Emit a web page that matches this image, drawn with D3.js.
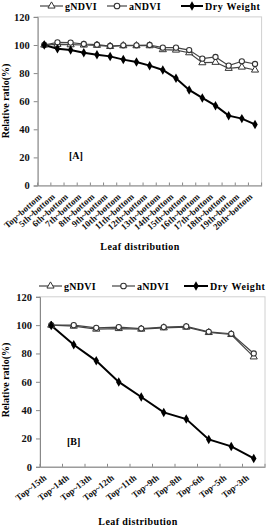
<!DOCTYPE html>
<html><head><meta charset="utf-8">
<script src="https://cdn.jsdelivr.net/npm/d3@7"></script>
<style>body{margin:0;background:#fff}svg{display:block}</style>
</head><body>
<script>
const catsA = ["Top~bottom","5th~bottom","6th~bottom","7th~bottom","8th~bottom","9th~bottom","10th~bottom","11th~bottom","12th~bottom","13th~bottom","14th~bottom","15th~bottom","16th~bottom","17th~bottom","18th~bottom","19th~bottom","20th~bottom"];
const gndviA = [100,100.5,100.2,100,99.8,99,99.5,99.5,99.5,96.7,96.4,94.5,87.4,87.7,83.4,84.3,82.2];
const andviA = [100,101.9,101.7,100.7,100.2,99.3,99.8,99.8,100,98.1,98.1,96.4,90.3,91.5,85.3,88.4,86.5];
const dryA = [100,97.4,96.4,94.5,93.1,91.9,89.6,87.9,85.3,82.2,76.3,68,62.3,56.8,49.7,47.6,43.5];

const catsB = ["Top~15th","Top~14th","Top~13th","Top~12th","Top~11th","Top~9th","Top~8th","Top~6th","Top~5th","Top~3th"];
const gndviB = [100,99.3,97.2,97.6,97.2,98.1,98.6,94.8,93.4,77.6];
const andviB = [100,100,98.1,98.6,97.6,98.6,99.1,95.3,93.9,80];
const dryB = [99.7,86.1,74.8,59.9,49.3,38.4,33.7,19.3,14.4,5.9];

const yTicks = [0,20,40,60,80,100,120];
const seriesNames = ["gNDVI","aNDVI","Dry Weight"];

const FONT = "'Liberation Serif','Times New Roman',serif";
const svg = d3.select("body").append("svg").attr("width",269).attr("height",527)
  .style("font-family",FONT);

function panel(cfg){
  const g = svg.append("g");
  const x = d3.scaleBand().domain(cfg.cats).range([cfg.left,cfg.right]);
  const y = d3.scaleLinear().domain([0,120]).range([cfg.bottom,cfg.top]);
  g.append("rect").attr("x",cfg.left).attr("y",cfg.top).attr("width",cfg.right-cfg.left).attr("height",cfg.bottom-cfg.top)
    .attr("fill","none").attr("stroke","#d0d0d0").attr("stroke-width",1);
  const ya = g.append("g").attr("transform",`translate(${cfg.left},0)`)
    .call(d3.axisLeft(y).tickValues(yTicks).tickSize(4).tickPadding(4));
  ya.select(".domain").attr("stroke","#888");
  ya.selectAll(".tick line").attr("stroke","#888");
  ya.selectAll("text").attr("font-family",FONT).attr("font-weight","bold").attr("font-size",10.5).attr("fill","#111");
  const xa = g.append("g").attr("transform",`translate(0,${cfg.bottom})`)
    .call(d3.axisBottom(x).tickSize(0).tickPadding(0));
  xa.select(".domain").attr("stroke","#888");
  xa.selectAll(".tick text").remove();
  const edges = cfg.cats.map(c=>x(c)).concat([cfg.right]);
  g.selectAll(null).data(edges).join("line")
    .attr("x1",d=>d).attr("x2",d=>d).attr("y1",cfg.bottom).attr("y2",cfg.bottom-3)
    .attr("stroke","#888");
  g.selectAll(null).data(cfg.cats).join("text")
    .attr("transform",d=>`translate(${x(d)+x.bandwidth()/2+cfg.lx},${cfg.bottom+cfg.ly}) rotate(${cfg.rot})`)
    .attr("text-anchor","end").attr("font-size",cfg.tickFont).attr("font-weight","bold").attr("fill","#111")
    .text(d=>d);
  const cx = d=>x(d)+x.bandwidth()/2;
  const line = d3.line().x((d,i)=>cx(cfg.cats[i])).y(d=>y(d));
  g.append("path").datum(cfg.g).attr("d",line).attr("fill","none").attr("stroke","#444").attr("stroke-width",1.2);
  g.append("path").datum(cfg.a).attr("d",line).attr("fill","none").attr("stroke","#444").attr("stroke-width",1.2);
  g.append("path").datum(cfg.d).attr("d",line).attr("fill","none").attr("stroke","#000").attr("stroke-width",2);
  const tri = d3.symbol().type(d3.symbolTriangle).size(22);
  g.selectAll(null).data(cfg.g).join("path").attr("d",tri)
    .attr("transform",(d,i)=>`translate(${cx(cfg.cats[i])},${y(d)})`)
    .attr("fill","#fff").attr("stroke","#333").attr("stroke-width",1);
  g.selectAll(null).data(cfg.a).join("circle").attr("cx",(d,i)=>cx(cfg.cats[i])).attr("cy",d=>y(d)).attr("r",2.6)
    .attr("fill","#fff").attr("stroke","#333").attr("stroke-width",1.1);
  const dia = d3.symbol().type(d3.symbolDiamond).size(26);
  g.selectAll(null).data(cfg.d).join("path").attr("d",dia)
    .attr("transform",(d,i)=>`translate(${cx(cfg.cats[i])},${y(d)})`).attr("fill","#000");
  g.append("text").attr("x",cfg.labX).attr("y",cfg.labY).attr("font-size",10).attr("font-weight","bold").text(cfg.label);
  g.append("text").attr("transform",`translate(${cfg.ytX},${cfg.ytY}) rotate(-90)`).attr("text-anchor","middle")
    .attr("font-size",10).attr("font-weight","bold").text("Relative ratio(%)");
  g.append("text").attr("x",cfg.xtX).attr("y",cfg.xtY).attr("text-anchor","middle")
    .attr("font-size",10).attr("font-weight","bold").attr("letter-spacing",0.4).text("Leaf distribution");
  const L = cfg.leg;
  const ly = L.y;
  [0,1,2].forEach(i=>{
    const x0 = L.x[i], x1 = L.x[i]+L.len[i];
    g.append("line").attr("x1",x0).attr("x2",x1).attr("y1",ly).attr("y2",ly)
      .attr("stroke",i==2?"#000":"#444").attr("stroke-width",i==2?2:1.2);
    const mx=(x0+x1)/2;
    if(i==0) g.append("path").attr("d",tri).attr("transform",`translate(${mx},${ly})`).attr("fill","#fff").attr("stroke","#333");
    if(i==1) g.append("circle").attr("cx",mx).attr("cy",ly).attr("r",2.8).attr("fill","#fff").attr("stroke","#333").attr("stroke-width",1.1);
    if(i==2) g.append("path").attr("d",dia).attr("transform",`translate(${mx},${ly})`).attr("fill","#000");
    g.append("text").attr("x",x1+2).attr("y",ly+3.5).attr("font-size",10).attr("font-weight","bold")
      .attr("letter-spacing",i==2?0.6:0.3).text(seriesNames[i]);
  });
}

panel({cats:catsA,g:gndviA,a:andviA,d:dryA,left:37.7,right:261.6,top:16.9,bottom:185.5,
  rot:-42,lx:-2,ly:12,tickFont:9,label:"[A]",labX:69,labY:159,
  ytX:9,ytY:101,xtX:140,xtY:250,
  leg:{y:6,x:[40,107,181],len:[23,20,22]}});
panel({cats:catsB,g:gndviB,a:andviB,d:dryB,left:40,right:265,top:296.8,bottom:466.8,
  rot:-38,lx:-4,ly:12,tickFont:9,label:"[B]",labX:67,labY:445,
  ytX:9,ytY:380,xtX:138,xtY:525,
  leg:{y:286,x:[39,112,184],len:[23,23,24]}});
</script>
</body></html>
